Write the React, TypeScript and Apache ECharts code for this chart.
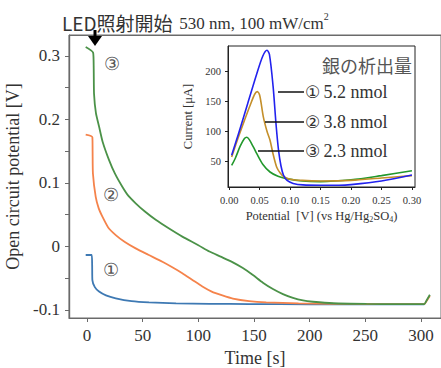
import React, { useEffect, useRef } from "react";
import * as echarts from "echarts";

// Main chart: open circuit potential [V] vs time [s]
const curve1: [number, number][] = [
  [-1.2, -0.0134], [4.2, -0.0134], [4.6, -0.03], [4.8, -0.053], [7, -0.064], [10.8, -0.071],
  [17, -0.077], [25.8, -0.0816], [40, -0.086], [55.7, -0.088], [80, -0.0895], [110, -0.0903],
  [145.6, -0.0906], [200, -0.091], [250, -0.0912], [303, -0.0912],
];
const curve2: [number, number][] = [
  [-1.2, 0.176], [4.8, 0.172], [5, 0.15], [5.3, 0.115], [7.8, 0.078], [10.5, 0.06], [13.8, 0.047],
  [19, 0.03], [25.8, 0.018], [34, 0.007], [43.7, -0.003], [55, -0.013], [67.7, -0.024], [77, -0.033],
  [85.6, -0.042], [95, -0.053], [103.6, -0.063], [112, -0.071], [121.6, -0.077], [131, -0.082],
  [145.6, -0.086], [161, -0.088], [190, -0.0895], [221, -0.0902], [260, -0.0906], [303, -0.0908],
  [305, -0.086], [308, -0.078],
];
const curve3: [number, number][] = [
  [-1.2, 0.314], [5.5, 0.305], [6, 0.28], [6.3, 0.24], [8, 0.21], [10.8, 0.189], [14, 0.165],
  [19.8, 0.136], [25, 0.115], [31.7, 0.094], [37, 0.08], [43.7, 0.068], [52, 0.055], [61.7, 0.042],
  [73, 0.029], [85.6, 0.0155], [100, 0.002], [110, -0.008], [120, -0.016], [131, -0.025],
  [140, -0.034], [149, -0.045], [158, -0.057], [167, -0.067], [176, -0.075], [185, -0.081],
  [194, -0.085], [203, -0.087], [221, -0.0894], [251, -0.0905], [280, -0.0908],
  [303, -0.0908], [305, -0.085], [308, -0.076],
];
const timeTicks = [0, 50, 100, 150, 200, 250, 300];
const ocpLabels = [-0.1, 0, 0.1, 0.2, 0.3];
const ocpTicks = [-0.1, -0.05, 0, 0.05, 0.1, 0.15, 0.2, 0.25, 0.3];

// Inset: current [uA] vs potential [V]
const inset1: [number, number][] = [
  [0.004, 60], [0.015, 95], [0.03, 145], [0.045, 195], [0.055, 225], [0.062, 235], [0.066, 228],
  [0.072, 175], [0.077, 110], [0.081, 68], [0.085, 42], [0.089, 27], [0.095, 18], [0.105, 13],
  [0.121, 10.5], [0.15, 10], [0.18, 10], [0.2, 11], [0.25, 17], [0.3, 27],
];
const inset2: [number, number][] = [
  [0.004, 57], [0.015, 90], [0.025, 118], [0.035, 145], [0.042, 162], [0.046, 166], [0.05, 160],
  [0.056, 124], [0.062, 100], [0.067, 85], [0.072, 62], [0.078, 40], [0.084, 30], [0.09, 24],
  [0.1, 20], [0.12, 18], [0.15, 17], [0.2, 18], [0.25, 22], [0.3, 26],
];
const inset3: [number, number][] = [
  [0.004, 43], [0.01, 55], [0.018, 75], [0.025, 88], [0.029, 90], [0.033, 86], [0.04, 73],
  [0.045, 63], [0.055, 45], [0.067, 32], [0.08, 25], [0.094, 21], [0.12, 17], [0.15, 16],
  [0.2, 19], [0.25, 26], [0.3, 34],
];
const potentialTicks = [0, 0.05, 0.1, 0.15, 0.2, 0.25, 0.3];
const currentTicks = [50, 100, 150, 200];
const legendNums = ["①", "②", "③"];
const legendAmounts = ["5.2 nmol", "3.8 nmol", "2.3 nmol"];

const SERIF = "Liberation Serif";
const SANS_JP = "Noto Sans CJK JP";

export default function App() {
  const ref = useRef<HTMLDivElement>(null);
  useEffect(() => {
    if (!ref.current) return;
    const chart = echarts.init(ref.current, undefined, { renderer: "svg" });
    const axisGray = "#6a6a6a";
    const serifText = (text: string, x: number, y: number, size: number, fill: string, align = "left") => ({
      type: "text", z: 20, x, y,
      style: { text, fontFamily: SERIF, fontSize: size, fill, align, verticalAlign: "middle" },
    });
    const legendText = (i: number, x: number, y: number) => ({
      type: "text", z: 20, x, y,
      style: {
        text: `{c|${legendNums[i]}} {t|${legendAmounts[i]}}`,
        verticalAlign: "middle",
        rich: {
          c: { fontFamily: "DejaVu Sans", fontSize: 17, fill: "#333" },
          t: { fontFamily: SERIF, fontSize: 18, fill: "#333" },
        },
      },
    });
    const frameLine = (x1: number, y1: number, x2: number, y2: number) => ({
      type: "line", z: 10, silent: true,
      shape: { x1, y1, x2, y2 },
      style: { stroke: axisGray, lineWidth: 1.2 },
    });
    const option: any = {
      animation: false,
      backgroundColor: "#fff",
      textStyle: { fontFamily: SERIF },
      grid: [
        { left: 69, right: 0, top: 35, bottom: 50, outerBoundsMode: "none", containLabel: false, show: true, borderColor: axisGray, borderWidth: 1, backgroundColor: "transparent" },
        { left: 228, top: 46, width: 187, height: 141, outerBoundsMode: "none", containLabel: false, show: true, borderColor: "#222", borderWidth: 1, backgroundColor: "#fff", z: 5 },
      ],
      xAxis: [
        {
          type: "value", gridIndex: 0, min: -16.2, max: 318,
          name: "Time [s]", nameLocation: "middle", nameGap: 30,
          nameTextStyle: { fontFamily: SERIF, fontSize: 18, color: "#333" },
          axisLine: { show: true, onZero: false, lineStyle: { color: axisGray, width: 1.2 } },
          axisTick: { show: true, customValues: timeTicks, length: 4, lineStyle: { color: axisGray } },
          axisLabel: { customValues: timeTicks, fontFamily: SERIF, fontSize: 17, color: "#333", margin: 9 },
          splitLine: { show: false },
        },
        {
          type: "value", gridIndex: 1, min: -0.002, max: 0.305,
          name: "Potential  [V] (vs Hg/Hg{s|2}SO{s|4})", nameLocation: "middle", nameGap: 22,
          nameTextStyle: {
            fontFamily: SERIF, fontSize: 12.5, color: "#333",
            rich: { s: { fontFamily: SERIF, fontSize: 8, color: "#333", verticalAlign: "bottom", padding: [6, 0, 0, 0] } },
          },
          axisLine: { show: true, onZero: false, lineStyle: { color: "#222" } },
          axisTick: { show: true, customValues: potentialTicks, length: 3, lineStyle: { color: "#222" } },
          axisLabel: { customValues: potentialTicks, formatter: (v: number) => v.toFixed(2), fontFamily: SERIF, fontSize: 10.5, color: "#333", margin: 8 },
          splitLine: { show: false },
          z: 6,
        },
      ],
      yAxis: [
        {
          type: "value", gridIndex: 0, min: -0.1126, max: 0.333,
          name: "Open circuit potential [V]", nameLocation: "middle", nameGap: 42,
          nameTextStyle: { fontFamily: SERIF, fontSize: 18, color: "#333" },
          axisLine: { show: true, onZero: false, lineStyle: { color: axisGray, width: 1.2 } },
          axisTick: { show: true, customValues: ocpTicks, length: 4, lineStyle: { color: axisGray } },
          axisLabel: {
            customValues: ocpLabels,
            formatter: (v: number) => (Math.abs(v) < 1e-9 ? "0" : v.toFixed(1)),
            fontFamily: SERIF, fontSize: 17, color: "#333", margin: 9,
          },
          splitLine: { show: false },
        },
        {
          type: "value", gridIndex: 1, min: 7, max: 242,
          name: "Current [μA]", nameLocation: "middle", nameGap: 34,
          nameTextStyle: { fontFamily: SERIF, fontSize: 12.5, color: "#333" },
          axisLine: { show: true, onZero: false, lineStyle: { color: "#222" } },
          axisTick: { show: true, customValues: currentTicks, length: 3, lineStyle: { color: "#222" } },
          axisLabel: { customValues: currentTicks, fontFamily: SERIF, fontSize: 10.5, color: "#333", margin: 7 },
          splitLine: { show: false },
          z: 6,
        },
      ],
      series: [
        { type: "line", xAxisIndex: 0, yAxisIndex: 0, data: curve1, showSymbol: false, smooth: 0.2, lineStyle: { color: "#3e79b3", width: 1.8 }, z: 2 },
        { type: "line", xAxisIndex: 0, yAxisIndex: 0, data: curve2, showSymbol: false, smooth: 0.2, lineStyle: { color: "#f5834b", width: 1.8 }, z: 2 },
        { type: "line", xAxisIndex: 0, yAxisIndex: 0, data: curve3, showSymbol: false, smooth: 0.2, lineStyle: { color: "#4b9248", width: 1.8 }, z: 2 },
        { type: "line", xAxisIndex: 1, yAxisIndex: 1, data: inset3, showSymbol: false, smooth: 0.3, lineStyle: { color: "#22982c", width: 1.6 }, z: 7 },
        { type: "line", xAxisIndex: 1, yAxisIndex: 1, data: inset2, showSymbol: false, smooth: 0.3, lineStyle: { color: "#c48f2a", width: 1.6 }, z: 8 },
        { type: "line", xAxisIndex: 1, yAxisIndex: 1, data: inset1, showSymbol: false, smooth: 0.3, lineStyle: { color: "#2222ee", width: 1.6 }, z: 9 },
      ],
      graphic: [
        frameLine(69.5, 35, 69.5, 318.5),
        frameLine(69, 318.5, 441, 318.5),
        frameLine(69, 35.5, 441, 35.5),
        {
          type: "text", left: 62, top: 8, z: 20,
          style: {
            text: "{a|LED照射開始}  {b|530 nm, 100 mW/cm}{s|2}",
            rich: {
              a: { fontFamily: SANS_JP, fontSize: 19, fill: "#333", lineHeight: 24, verticalAlign: "bottom" },
              b: { fontFamily: SERIF, fontSize: 17, fill: "#333", lineHeight: 24, verticalAlign: "bottom" },
              s: { fontFamily: SERIF, fontSize: 10, fill: "#333", lineHeight: 24, verticalAlign: "top", padding: [3, 0, 0, 0] },
            },
          },
        },
        { type: "rect", z: 20, shape: { x: 93.5, y: 30, width: 3, height: 7 }, style: { fill: "#000" } },
        { type: "polygon", z: 20, shape: { points: [[88, 36], [102, 36], [95, 46]] }, style: { fill: "#000" } },
        serifText("③", 112, 64, 18, "#555", "center"),
        serifText("②", 111, 195, 18, "#555", "center"),
        serifText("①", 111, 270, 18, "#555", "center"),
        { type: "text", z: 20, x: 412, y: 65, style: { text: "銀の析出量", fontFamily: SANS_JP, fontSize: 18, fill: "#555", align: "right", verticalAlign: "middle" } },
        { type: "line", z: 20, shape: { x1: 278, y1: 92, x2: 304, y2: 92 }, style: { stroke: "#111", lineWidth: 1.5 } },
        { type: "line", z: 20, shape: { x1: 265, y1: 122, x2: 304, y2: 122 }, style: { stroke: "#111", lineWidth: 1.5 } },
        { type: "line", z: 20, shape: { x1: 258, y1: 151, x2: 304, y2: 151 }, style: { stroke: "#111", lineWidth: 1.5 } },
        legendText(0, 305, 92),
        legendText(1, 305, 122),
        legendText(2, 305, 151),
      ],
    };
    chart.setOption(option);
    return () => chart.dispose();
  }, []);
  return <div ref={ref} style={{ position: "fixed", left: 0, top: 0, width: 441, height: 368 }} />;
}
